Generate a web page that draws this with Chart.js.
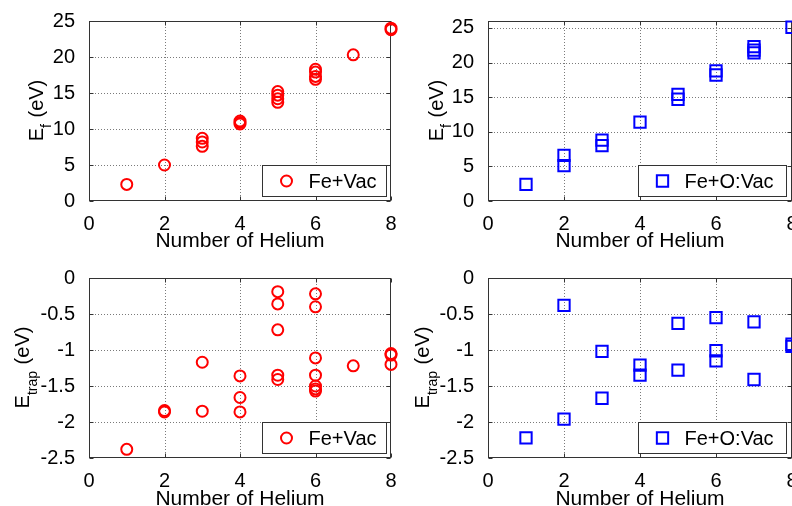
<!DOCTYPE html>
<html><head><meta charset="utf-8">
<script src="https://cdn.jsdelivr.net/npm/chart.js@4.4.0/dist/chart.umd.min.js"></script>
<style>
html,body{margin:0;padding:0;background:#fff;}
body{width:792px;height:506px;overflow:hidden;position:relative;}
canvas{position:absolute;}
</style></head><body>
<canvas id="tl" width="400" height="256" style="left:0;top:0"></canvas>
<canvas id="tr" width="392" height="256" style="left:400px;top:0"></canvas>
<canvas id="bl" width="400" height="260" style="left:0;top:253px"></canvas>
<canvas id="br" width="392" height="260" style="left:400px;top:253px"></canvas>
<script>
// ---------- data ----------
const xTickValues = [0, 2, 4, 6, 8];
const yTicksEf = [0, 5, 10, 15, 20, 25];
const yTicksTrap = [-2.5, -2, -1.5, -1, -0.5, 0];

// Formation energy, Fe+Vac
const heliumEfVac = [1, 2, 3, 3, 3, 4, 4, 4, 5, 5, 5, 5, 6, 6, 6, 6, 7, 8, 8];
const efVac =       [2.3, 5.0, 8.7, 8.2, 7.6, 11.1, 10.9, 10.7, 15.2, 14.7, 14.2, 13.7, 18.3, 17.9, 17.3, 16.9, 20.3, 23.8, 24.0];

// Formation energy, Fe+O:Vac
const heliumEfOVac = [1, 2, 2, 3, 3, 4, 5, 5, 6, 6, 7, 7, 7, 8];
const efOVac =       [2.4, 6.6, 5.1, 8.8, 8.0, 11.4, 15.4, 14.7, 18.8, 18.2, 22.3, 21.8, 21.4, 25.1];

// Trapping energy, Fe+Vac
const heliumTrapVac = [1, 2, 2, 3, 3, 4, 4, 4, 5, 5, 5, 5, 5, 6, 6, 6, 6, 6, 6, 6, 7, 8, 8, 8];
const trapVac =       [-2.38, -1.84, -1.86, -1.17, -1.85, -1.36, -1.66, -1.86, -0.19, -0.36, -0.72, -1.35, -1.41,
                       -0.22, -0.40, -1.11, -1.35, -1.50, -1.54, -1.57, -1.22, -1.05, -1.07, -1.20];

// Trapping energy, Fe+O:Vac
const heliumTrapOVac = [1, 2, 2, 3, 3, 4, 4, 5, 5, 6, 6, 6, 7, 7, 8, 8];
const trapOVac =       [-2.22, -0.38, -1.96, -1.02, -1.67, -1.21, -1.35, -0.63, -1.28, -0.55, -1.01, -1.15, -0.61, -1.41, -0.92, -0.95];

// ---------- helpers ----------
const FONT = '"Liberation Sans", Arial, Helvetica, sans-serif';

const matlabPlugin = {
  id: 'matlab',
  beforeDatasetsDraw(chart, args, opts) {
    const ctx = chart.ctx, ca = chart.chartArea;
    const xs = chart.scales.x, ys = chart.scales.y;
    ctx.save();
    // dotted grid
    ctx.strokeStyle = '#7a7a7a';
    ctx.lineWidth = 1;
    ctx.setLineDash([1, 2]);
    xs.ticks.forEach(t => {
      const px = Math.round(xs.getPixelForValue(t.value)) + 0.5;
      if (px < ca.left + 2 || px > ca.right - 2) return;
      ctx.beginPath(); ctx.moveTo(px, ca.top); ctx.lineTo(px, ca.bottom); ctx.stroke();
    });
    ys.ticks.forEach(t => {
      const py = Math.round(ys.getPixelForValue(t.value)) + 0.5;
      if (py < ca.top + 2 || py > ca.bottom - 2) return;
      ctx.beginPath(); ctx.moveTo(ca.left, py); ctx.lineTo(ca.right, py); ctx.stroke();
    });
    ctx.setLineDash([]);
    // box
    ctx.strokeStyle = '#333333';
    const L = Math.round(ca.left) + 0.5, T = Math.round(ca.top) + 0.5;
    const R = Math.round(ca.right) - 0.5, B = Math.round(ca.bottom) - 0.5;
    ctx.strokeRect(L, T, R - L, B - T);
    // inward ticks
    const tl = 4;
    ctx.beginPath();
    xs.ticks.forEach(t => {
      const px = Math.round(xs.getPixelForValue(t.value)) + 0.5;
      ctx.moveTo(px, B); ctx.lineTo(px, B - tl);
      ctx.moveTo(px, T); ctx.lineTo(px, T + tl);
    });
    ys.ticks.forEach(t => {
      const py = Math.round(ys.getPixelForValue(t.value)) + 0.5;
      ctx.moveTo(L, py); ctx.lineTo(L + tl, py);
      ctx.moveTo(R, py); ctx.lineTo(R - tl, py);
    });
    ctx.stroke();
    ctx.restore();
  },
  afterDraw(chart, args, opts) {
    const ctx = chart.ctx, ca = chart.chartArea;
    const ds = chart.data.datasets[0];
    ctx.save();
    // legend
    ctx.font = '20px ' + FONT;
    const bw = opts.legendWidth, bh = 31;
    const bx = Math.round(ca.right - opts.legendInset - bw) + 0.5, by = Math.round(ca.bottom - 5 - bh) + 0.5;
    ctx.fillStyle = '#fff';
    ctx.fillRect(bx, by, bw, bh);
    ctx.strokeStyle = '#333';
    ctx.lineWidth = 1;
    ctx.strokeRect(bx, by, bw, bh);
    ctx.strokeStyle = ds.borderColor;
    ctx.fillStyle = 'rgba(0,0,0,0)';
    ctx.lineWidth = ds.pointBorderWidth;
    Chart.helpers.drawPoint(ctx, {pointStyle: ds.pointStyle, radius: ds.pointRadius, borderWidth: ds.pointBorderWidth, rotation: 0}, bx + 24, by + bh / 2);
    ctx.fillStyle = '#000';
    ctx.textAlign = 'left';
    ctx.textBaseline = 'middle';
    ctx.fillText(ds.label, bx + 46, by + bh / 2 + 1);
    // y-axis title with subscript
    const yc = (ca.top + ca.bottom) / 2;
    ctx.translate(opts.yTitleX, yc);
    ctx.rotate(-Math.PI / 2);
    const big = '20px ' + FONT, small = '14px ' + FONT;
    ctx.font = big;
    const w1 = ctx.measureText(opts.yMain).width;
    const w3 = ctx.measureText(opts.yRest).width;
    ctx.font = small;
    const w2 = ctx.measureText(opts.ySub).width;
    let s = -(w1 + w2 + w3) / 2;
    ctx.textBaseline = 'alphabetic';
    ctx.fillStyle = '#000';
    ctx.font = big; ctx.fillText(opts.yMain, s, 0);
    ctx.font = small; ctx.fillText(opts.ySub, s + w1, 8);
    ctx.font = big; ctx.fillText(opts.yRest, s + w1 + w2 + 1, 0);
    ctx.restore();
  }
};

function makePanel(id, cfg) {
  const canvas = document.getElementById(id);
  const W = canvas.width, H = canvas.height;
  const a = cfg.area;
  const points = cfg.xs.map((x, i) => ({x: x, y: cfg.ys[i]}));
  return new Chart(canvas, {
    type: 'scatter',
    data: {
      datasets: [{
        label: cfg.label,
        data: points,
        borderColor: cfg.color,
        backgroundColor: 'rgba(0,0,0,0)',
        pointStyle: cfg.pointStyle,
        pointRadius: cfg.radius,
        pointBorderWidth: 2,
        pointHoverRadius: cfg.radius,
        clip: false
      }]
    },
    options: {
      responsive: false,
      animation: false,
      devicePixelRatio: 1,
      events: [],
      layout: {autoPadding: false, padding: {left: 0, top: a.t, right: W - a.r, bottom: 0}},
      plugins: {
        legend: {display: false},
        tooltip: {enabled: false},
        matlab: {yTitleX: cfg.yTitleX, yMain: 'E', ySub: cfg.ySub, yRest: ' (eV)',
                 legendWidth: cfg.legendWidth, legendInset: cfg.legendInset}
      },
      scales: {
        x: {
          type: 'linear', min: 0, max: 8,
          afterBuildTicks: s => { s.ticks = xTickValues.map(v => ({value: v})); },
          afterFit: s => { s.height = H - a.b; s.paddingLeft = 0; s.paddingRight = 0; },
          grid: {display: false},
          border: {display: false},
          ticks: {color: '#000', font: {family: FONT, size: 20}, padding: 3, maxRotation: 0, autoSkip: false,
                  callback: v => String(v)},
          title: {display: true, text: 'Number of Helium', color: '#000',
                  font: {family: FONT, size: 21}, padding: {top: 0, bottom: cfg.xTitlePad}}
        },
        y: {
          type: 'linear', min: cfg.yMin, max: cfg.yMax,
          afterBuildTicks: s => { s.ticks = cfg.yTicks.map(v => ({value: v})); },
          afterFit: s => { s.width = a.l; s.paddingTop = 0; s.paddingBottom = 0; },
          grid: {display: false},
          border: {display: false},
          ticks: {color: '#000', font: {family: FONT, size: 20}, padding: 6, autoSkip: false,
                  callback: v => String(v)}
        }
      }
    },
    plugins: [matlabPlugin]
  });
}

makePanel('tl', {xs: heliumEfVac, ys: efVac, label: 'Fe+Vac', color: '#ff0000', pointStyle: 'circle', radius: 5.5,
  yMin: 0, yMax: 25, yTicks: yTicksEf, ySub: 'f', yTitleX: 43, legendWidth: 124, legendInset: 5,
  area: {l: 89, t: 21, r: 391, b: 201}, xTitlePad: 2});
makePanel('tr', {xs: heliumEfOVac, ys: efOVac, label: 'Fe+O:Vac', color: '#0000ff', pointStyle: 'rect', radius: 8,
  yMin: 0, yMax: 26, yTicks: yTicksEf, ySub: 'f', yTitleX: 43, legendWidth: 148, legendInset: 6,
  area: {l: 88, t: 21, r: 392, b: 201}, xTitlePad: 2});
makePanel('bl', {xs: heliumTrapVac, ys: trapVac, label: 'Fe+Vac', color: '#ff0000', pointStyle: 'circle', radius: 5.5,
  yMin: -2.5, yMax: 0, yTicks: yTicksTrap, ySub: 'trap', yTitleX: 29, legendWidth: 124, legendInset: 5,
  area: {l: 89, t: 25, r: 391, b: 205}, xTitlePad: 1});
makePanel('br', {xs: heliumTrapOVac, ys: trapOVac, label: 'Fe+O:Vac', color: '#0000ff', pointStyle: 'rect', radius: 8,
  yMin: -2.5, yMax: 0, yTicks: yTicksTrap, ySub: 'trap', yTitleX: 29, legendWidth: 148, legendInset: 6,
  area: {l: 88, t: 25, r: 392, b: 205}, xTitlePad: 1});
</script>
</body></html>
